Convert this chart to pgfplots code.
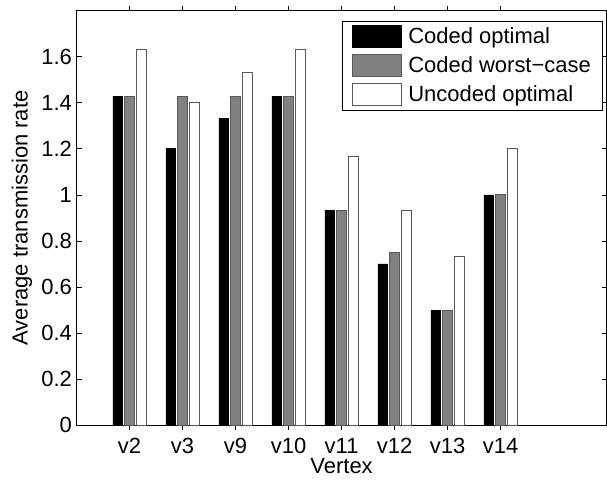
\documentclass[border=0pt]{standalone}
\usepackage{pgfplots}
\pgfplotsset{compat=1.18}
\usepackage{fontspec}
\setmainfont{Liberation Sans}
\definecolor{mgray}{gray}{0.5}
\definecolor{edgegray}{gray}{0.35}
\begin{document}
\begin{tikzpicture}
\begin{axis}[
  scale only axis,
  width=398pt, height=311.25pt,
  xmin=0, xmax=10, ymin=0, ymax=1.8,
  xtick={1,2,3,4,5,6,7,8},
  xticklabels={v2,v3,v9,v10,v11,v12,v13,v14},
  ytick={0,0.2,0.4,0.6,0.8,1,1.2,1.4,1.6},
  yticklabels={0,0.2,0.4,0.6,0.8,1,1.2,1.4,1.6},
  tick align=inside,
  major tick length=3.75pt,
  tick style={black, line width=0.5pt},
  axis line style={line width=0.6pt},
  /pgf/number format/assume math mode=true,
  tick label style={font=\fontsize{16.5}{19}\selectfont},
  xticklabel style={yshift=-2.5pt},
  label style={font=\fontsize{16.5}{19}\selectfont},
  xlabel={Vertex},
  ylabel={Average transmission rate},
  xlabel style={yshift=3.5pt},
  ylabel style={yshift=0pt},
  ybar, bar width=0.185,
  legend style={at={(1,1)}, anchor=north east, xshift=-3pt, yshift=-7.5pt,
    font=\fontsize{16.5}{19}\selectfont, draw=black, line width=0.6pt,
    inner xsep=6.5pt, inner ysep=3pt, row sep=4.3pt, column sep=2.5pt,
    cells={anchor=west}},
  legend image code/.code={\draw[#1, line width=0.6pt] (0pt,-8.25pt) rectangle (37.5pt,8.25pt);},
]
\addplot[bar shift=-0.222, fill=black, draw=black, line width=0.5pt] coordinates {
 (1,1.4286) (2,1.2) (3,1.3333) (4,1.4286) (5,0.9333) (6,0.7) (7,0.5) (8,1.0)};
\addplot[bar shift=0, fill=mgray, draw=edgegray, line width=0.6pt] coordinates {
 (1,1.4286) (2,1.4286) (3,1.4286) (4,1.4286) (5,0.9333) (6,0.75) (7,0.5) (8,1.0)};
\addplot[bar shift=0.222, fill=white, draw=edgegray, line width=0.6pt] coordinates {
 (1,1.6333) (2,1.4) (3,1.5333) (4,1.6333) (5,1.1667) (6,0.9333) (7,0.7333) (8,1.2)};
\legend{Coded optimal, Coded worst−case, Uncoded optimal}
\end{axis}
\pgfresetboundingbox
\path ([xshift=-57.5pt,yshift=-40.5pt]current axis.south west) rectangle ([xshift=0.3pt,yshift=8pt]current axis.north east);
\end{tikzpicture}
\end{document}
